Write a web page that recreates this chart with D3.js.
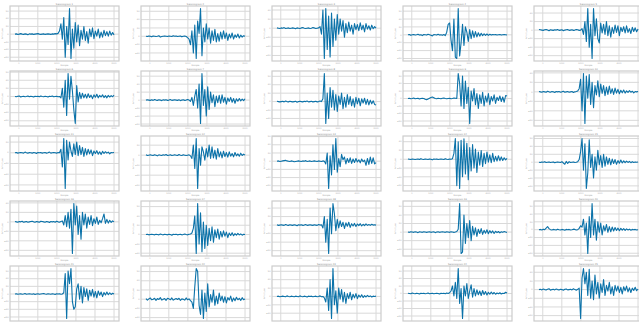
<!DOCTYPE html>
<html><head><meta charset="utf-8">
<script src="https://cdn.jsdelivr.net/npm/d3@7"></script>
<style>body{margin:0;background:#fff}svg{display:block;font-family:"DejaVu Sans",sans-serif}</style>
</head><body>
<svg id="chart" width="639" height="322"></svg>
<script>
// ---- data ----
const titles = d3.range(1, 26).map(i => "Seismogram " + i);
const xLabel = "Sample";
const yLabel = "Amplitude";
const xTickValues = [0, 1000, 2000, 3000, 4000, 5000];
const xStart = -200, xEnd = 5000;

const s01 = [0,1,-1,0,2,0,-1,1,0,-2,1,0,1,-1,0,1,2,0,-1,0,1,-1,0,1,0,-1,1,0,2,1,3,
  12,40,-20,65,-90,30,-40,100,-95,20,-55,45,-30,35,-45,15,-20,30,-25,10,-35,20,-10,25,-18,12,-8,20,-15,8,-12,15,-6,10,-8,12,-4,6,-3];
const s02 = [0,-1,1,0,-2,1,0,-1,0,2,-3,-1,0,1,0,-1,1,0,-1,2,0,1,-1,0,1,-2,0,1,-1,-5,-10,
  -30,20,-60,40,-80,55,10,100,-70,30,-20,45,-10,30,-25,20,-15,25,-20,10,-18,15,-10,20,-8,12,-15,8,-6,12,-10,5,-4,8,-6,4,-3,2,0];
const s03 = [1,0,-1,1,0,2,-1,0,1,-1,0,1,0,-2,1,0,-1,1,2,0,-1,0,1,-1,0,2,1,-1,0,1,
  5,-20,60,-100,65,-70,40,-95,50,-60,30,-40,45,-20,30,-10,25,-30,15,-15,20,-10,10,-20,15,-5,12,-8,18,-5,10,-12,15,-3,8,-6,10,-2,5,0];
const s04 = [0,1,-2,0,1,-1,0,2,-1,0,-3,1,0,-1,2,0,-2,-4,1,0,-1,2,-1,0,-2,1,-3,
  10,40,45,-20,-60,60,-85,-90,100,-80,-30,40,-40,30,10,-25,20,-15,15,-10,12,-8,8,-5,6,-3,4,-2,3,-2,2,-1,1,0,1,-1,0,1,-1,0,1,0,-1];
const s05 = [2,1,0,-1,1,2,0,-2,1,0,-1,1,0,2,-1,0,1,-2,0,1,2,-1,0,1,-1,0,2,1,-1,0,
  5,-15,30,-40,76,-60,20,-100,76,-20,40,-30,-45,25,-10,20,-15,30,-20,15,-25,10,-12,18,-8,15,-20,10,-5,12,-10,15,-8,5,-12,10,-5,8,-6,4];
const s06 = [0,-1,1,2,-2,0,1,-1,0,2,-1,1,0,-2,1,0,1,-1,2,0,-1,1,0,-2,1,0,2,-1,0,1,-1,0,
  -5,30,-40,60,-70,85,-10,75,20,-50,-100,40,-20,15,-8,12,-5,8,-6,10,-4,5,-8,6,-3,8,-5,4,-2,6,-4,3,-5,4,-2,3,-1,5];
const s07 = [0,1,0,-1,1,-1,2,0,-1,1,0,-2,1,0,1,-1,0,2,-1,0,1,0,-1,1,-2,0,1,-1,0,2,0,
  -5,10,-20,15,40,-30,60,-88,100,-20,40,-60,50,-35,30,-10,20,-25,15,-10,18,-12,20,-8,10,-15,8,-5,10,-8,6,-12,5,-4,6,-3,4,-2,5];
const s08 = [1,0,-1,0,1,-1,2,0,-1,1,0,-1,0,1,-2,0,1,0,-1,1,0,2,-1,0,1,-1,0,1,-1,0,2,0,
  10,100,-78,30,-60,50,-20,40,-30,25,-35,20,-10,30,-25,15,-20,25,-10,18,-15,10,-20,15,-8,12,-15,10,-5,12,-10,8,-12,5,-8,3,-10,-12];
const s09 = [0,1,-1,0,2,-1,0,1,-2,0,1,0,-3,-5,-2,1,4,6,3,0,-1,1,0,-1,1,2,0,-1,0,1,-1,0,2,1,0,
  100,60,-30,90,-40,70,-20,45,-100,30,-10,40,-25,20,-40,15,-20,25,-30,10,-15,20,-25,8,-10,15,-20,5,-8,10,-12,6,-15,12,10];
const s10 = [1,0,-1,1,0,-1,2,0,-1,1,0,-2,1,0,1,-1,0,2,-1,0,1,-1,0,1,-2,0,1,3,
  10,40,-60,58,-100,50,-20,55,-40,30,-50,20,-10,35,-15,25,-5,20,-12,15,-8,18,-5,10,-8,12,-4,8,-6,5,-3,6,-4,3,-2,4,-1,2,-3,1,0,1];
const s11 = [0,1,-1,0,1,0,-1,2,0,-1,1,0,-1,1,0,-2,1,0,1,-1,0,1,-1,0,2,-1,0,1,0,-1,1,0,
  10,-40,40,-100,35,-20,30,5,-10,25,-5,30,-8,20,-5,15,-10,12,-6,10,-3,8,-8,5,-2,6,-4,3,-5,4,-2,3,-1,2,-3,1,0,1];
const s12 = [1,-1,0,1,0,-1,1,0,-2,1,0,-1,1,0,2,-1,0,1,-1,0,1,0,-1,2,0,-1,1,0,-1,0,1,-2,
  -10,30,-40,50,-100,20,-30,25,10,-15,20,-5,30,-10,25,-8,15,-12,20,-5,10,-8,12,-4,8,-6,10,-3,5,-5,8,-2,4,-3,6,-1,3,0];
const s13 = [0,1,-1,0,1,2,3,1,0,-1,1,0,-2,-1,0,1,0,-1,1,0,2,-1,0,1,-1,0,1,0,-1,1,0,-1,1,0,
  -10,30,-100,20,-50,60,-30,83,-40,10,-20,25,5,15,-10,10,-5,12,-8,8,-5,10,-3,5,-6,8,-2,4,-15,10,-12,15,-8,12,-10,-5];
const s14 = [1,0,-1,1,0,-1,0,1,-1,2,0,-1,1,0,-1,1,0,-2,1,0,1,-1,0,1,0,-1,2,0,-1,1,0,2,
  20,71,-90,60,-100,65,-60,70,-50,55,-70,40,-40,50,-30,35,-45,25,-20,30,-25,20,-15,25,-10,15,-12,20,-8,10,-6,12,-5,8,-4,5,-2,3];
const s15 = [0,-1,1,0,2,-1,0,1,-1,0,1,-2,0,1,0,-1,2,-3,-8,3,-5,2,-1,0,1,-1,0,2,
  10,40,90,-30,70,-100,-40,85,-20,30,-60,20,-30,45,-10,25,-20,30,-15,20,-8,15,-10,12,-5,10,-8,6,-4,8,-3,5,-2,4,-1,3,-2,2,-1,1,0,1];
const s16 = [1,0,-1,1,0,2,-1,0,1,-1,0,1,2,0,-1,1,0,-1,2,1,0,-1,1,0,-2,1,0,1,-1,2,0,-1,1,3,
  -10,20,-15,30,-20,40,-100,58,-10,50,-40,20,-55,30,-10,25,-20,15,-8,20,-12,10,-5,15,-8,5,-3,10,25,-5,8,-4,5,-2,3,0];
const s17 = [0,1,-1,0,1,0,-1,1,0,-1,2,0,-1,1,0,-1,1,0,-2,1,0,1,-1,0,1,-1,0,2,0,-1,1,2,
  5,20,60,-61,100,-30,70,-55,40,-45,30,-35,20,-20,25,-25,15,-10,18,-15,10,-8,12,-5,8,-10,5,-3,6,-4,3,-2,4,-1,2,-2,1,0];
const s18 = [1,-1,0,1,0,-1,2,0,-1,1,0,-1,1,0,-2,1,0,1,-1,0,2,-1,0,1,0,-1,1,0,-1,2,0,1,
  -10,30,-60,20,-100,60,-30,76,40,-20,20,-10,15,-5,10,-12,8,-4,10,-8,5,-3,6,-5,4,-2,5,-3,3,-2,4,-1,2,-1,3,0,1,0];
const s19 = [0,-1,1,0,-1,1,0,-2,1,0,-1,1,0,-1,0,1,-1,0,1,-2,0,1,-1,0,1,0,-1,1,0,-1,1,0,-1,0,2,
  10,100,-75,-70,60,-40,30,-20,40,-30,20,-10,15,-15,10,-5,12,-8,6,-4,8,-6,5,-3,4,-5,3,-2,2,-3,1,-1,2,0,-1];
const s20 = [0,1,-1,2,0,6,12,4,0,-1,1,0,-1,2,0,-1,1,0,-2,1,0,1,-1,0,2,1,-1,0,
  5,15,10,40,-20,25,-91,50,-30,100,-20,40,-40,30,-10,25,-20,15,-5,20,-10,12,-8,10,-5,8,-3,6,-4,5,-2,4,-3,3,-1,2,-2,1,0,1,-1,0];
const s21 = [0,1,-1,0,1,-1,0,2,-1,0,1,0,-1,1,-2,0,1,-1,0,1,2,0,-1,1,0,-1,1,0,-2,1,0,1,-1,0,
  5,80,-96,90,40,100,-30,-60,-50,20,40,-20,30,-35,25,-10,20,-25,15,-8,18,-12,10,-15,12,-5,8,-10,6,-4,8,-3,5,-2,3,0];
const s22 = [2,-3,1,4,-2,0,3,-4,2,-1,5,-3,0,2,-4,3,1,-2,4,-3,0,2,-1,3,-4,1,0,-3,4,-2,1,-5,
  -10,-30,40,100,90,-20,-50,30,-63,20,-40,50,-25,15,-10,30,-20,10,-15,20,-5,10,-10,8,-12,5,-3,10,-8,4,-5,6,-2,3,-4,5,-2,1];
const s23 = [0,1,-1,0,1,0,-1,2,0,-1,1,0,-1,1,0,-1,2,0,-1,1,0,-2,1,0,1,-1,0,1,-1,0,2,-1,0,
  -5,-20,30,-50,60,-79,100,-30,20,-60,30,-10,25,-20,15,-25,10,-8,15,-12,8,-5,10,-8,5,-3,6,-4,3,-2,4,-1,2,-2,1,0,1];
const s24 = [1,0,-1,2,0,-1,1,0,-2,1,0,1,-1,0,2,-1,0,1,-1,0,1,0,-2,1,0,1,-1,2,0,3,
  10,30,-10,45,-20,100,-40,20,-100,30,-10,40,-20,10,35,-15,20,-10,15,-5,10,-8,12,-4,8,-6,5,-3,6,-2,4,-3,2,-1,3,-2,1,0,5,2];
const s25 = [0,1,-1,2,0,-1,1,3,-2,0,1,-1,2,0,-1,1,0,-2,1,2,-1,0,1,-1,3,0,-2,1,
  5,-100,40,73,20,60,-20,70,-30,30,-35,50,-15,25,-30,20,-10,35,-20,15,-5,25,-15,10,-20,15,-5,12,-10,8,-15,10,-4,12,-8,6,-10,5,-3,8,-4,2];

const series = [s01,s02,s03,s04,s05,s06,s07,s08,s09,s10,s11,s12,s13,s14,s15,s16,s17,s18,s19,s20,s21,s22,s23,s24,s25];

// ---- layout ----
const W = 639, H = 322;
const nCols = 5;
const frameW = 109, frameH = 55, colStep = 131, rowStep = 65, left0 = 10, top0 = 6;
const lineColor = "#0b72a9";
const yStep = 30;

const svg = d3.select("#chart");

series.forEach((vals, k) => {
  const col = k % nCols, row = Math.floor(k / nCols);
  const ox = left0 + col*colStep, oy = top0 + row*rowStep;
  const g = svg.append("g").attr("transform", `translate(${ox},${oy})`);
  const n = vals.length;
  const t = vals.map((v, i) => xStart + i * (xEnd - xStart) / (n - 1));
  const pad = (xEnd - xStart) * 0.05;
  const x = d3.scaleLinear().domain([xStart - pad, xEnd + pad]).range([0, frameW]);
  const [mn, mx] = d3.extent(vals);
  const yp = (mx - mn) * 0.05;
  const y = d3.scaleLinear().domain([mn - yp, mx + yp]).range([frameH, 0]);
  const yTicks = d3.range(Math.ceil((mn - yp) / yStep) * yStep, mx + yp, yStep);

  // grid
  g.append("g").selectAll("line").data(xTickValues).join("line")
    .attr("x1", d => x(d)).attr("x2", d => x(d)).attr("y1", 0).attr("y2", frameH)
    .attr("stroke", "#d9d9d9").attr("stroke-width", 1);
  g.append("g").selectAll("line").data(yTicks).join("line")
    .attr("y1", d => y(d)).attr("y2", d => y(d)).attr("x1", 0).attr("x2", frameW)
    .attr("stroke", "#d9d9d9").attr("stroke-width", 1);

  // frame
  g.append("rect").attr("width", frameW).attr("height", frameH)
    .attr("fill", "none").attr("stroke", "#cccccc").attr("stroke-width", 1.2);

  // y tick labels
  const yl = g.append("g").attr("font-size", 2.1).attr("text-anchor", "end");
  yTicks.forEach(d => {
    const tx = yl.append("text").attr("x", -1.5).attr("y", y(d) + 0.7);
    if (d < 0) {
      tx.append("tspan").attr("fill", "#111").attr("font-weight", "bold").text("\u2212");
      tx.append("tspan").attr("fill", "#aaa").text(Math.abs(d));
    } else {
      tx.append("tspan").attr("fill", "#aaa").text(d);
    }
  });
  // x tick labels and x label only where they fit on the page
  if (oy + frameH + 5.5 < H) {
    g.append("g").selectAll("text").data(xTickValues.filter(d => ox + x(d) + 4 < W)).join("text")
      .attr("x", d => x(d)).attr("y", frameH + 2.6).attr("font-size", 2)
      .attr("text-anchor", "middle").attr("fill", "#aaa").text(d => d);
    g.append("text").attr("x", frameW/2).attr("y", frameH + 5.0).attr("font-size", 2.1)
      .attr("text-anchor", "middle").attr("fill", "#999").text(xLabel);
  }

  g.append("text").attr("x", frameW/2).attr("y", -1.3).attr("font-size", 2.4)
    .attr("text-anchor", "middle").attr("fill", "#888").text(titles[k]);
  g.append("text").attr("transform", `translate(-7.3,${frameH/2}) rotate(-90)`).attr("font-size", 2.1)
    .attr("text-anchor", "middle").attr("fill", "#999").text(yLabel);

  // trace
  const line = d3.line().x((d, i) => x(t[i])).y(d => y(d));
  g.append("path").datum(vals).attr("d", line)
    .attr("fill", "none").attr("stroke", lineColor).attr("stroke-width", 1.1)
    .attr("stroke-linejoin", "round");
});
</script>
</body></html>
